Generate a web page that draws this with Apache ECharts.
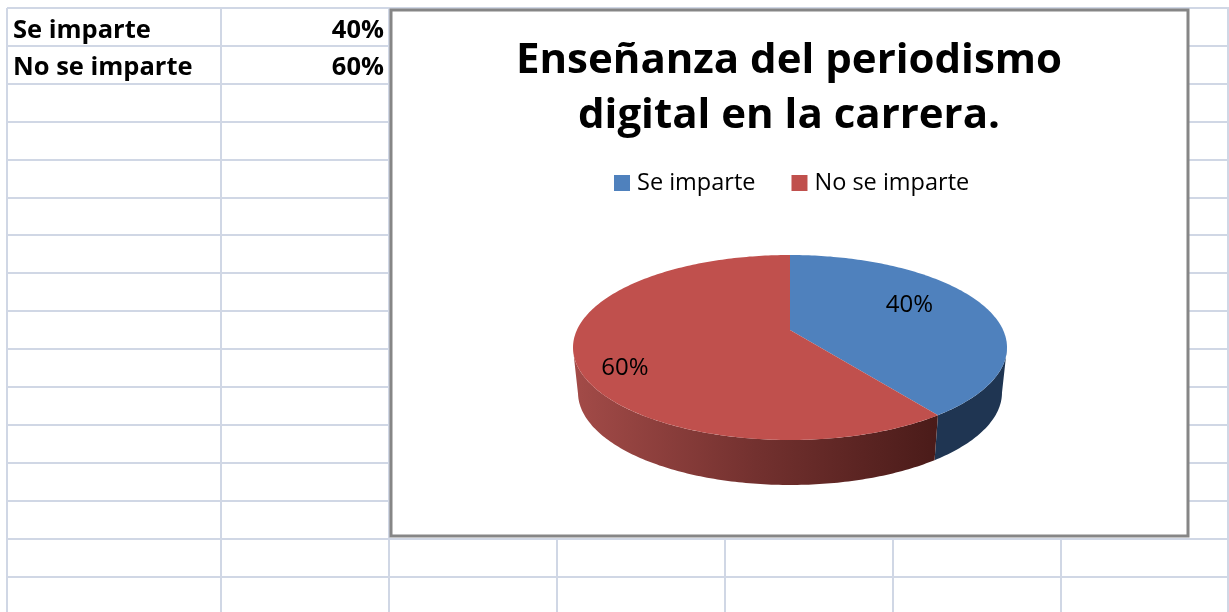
<!DOCTYPE html>
<html>
<head>
<meta charset="utf-8">
<title>Enseñanza del periodismo digital</title>
<script src="https://cdn.jsdelivr.net/npm/echarts@6/dist/echarts.min.js"></script>
<style>
  html, body { margin: 0; padding: 0; background: #fff; }
  #main { width: 1229px; height: 612px; }
</style>
</head>
<body>
<div id="main"></div>
<script>
// data
var categories = ["Se imparte", "No se imparte"];
var values = [40, 60];
var titleText = "Enseñanza del periodismo\ndigital en la carrera.";

var colors = ["#4f81bd", "#c0504d"];
var FONT = "Open Sans";

// sheet layout
var GRID = "#d0d7e5";
var rowTop = 8, rowH = 37.9, rowCount = 16;
var upperCols = [7, 221, 389, 1228];
var lowerCols = [557, 725, 893, 1061];
var box = { x: 391, y: 10, w: 797, h: 526 };

// pie layout (the 3D tilt puts the apex above the ellipse centre)
var pie = { cx: 790, cy: 347.5, rx: 217, ry: 92.5, depth: 45, bottomRx: 212, tilt: -0.19 };
var labelSpots = [{ r: 0.6, dx: 2, dy: -9 }, { r: 0.8, dx: 5, dy: 15 }];
var total = values.reduce(function (a, b) { return a + b; }, 0);

// disc angle (clockwise from top, radians) and radius to ellipse coords
function project(angle, r) {
  var x = Math.sin(angle) * r, y = -Math.cos(angle) * r, k = pie.tilt;
  var d = 1 + k * y;
  return { x: x * Math.sqrt(1 - k * k) / d, y: (y + k) / d };
}
function toPx(p) {
  return [pie.cx + p.x * pie.rx, pie.cy + p.y * pie.ry];
}
function rimAngle(angle) {
  var p = project(angle, 1);
  var a = Math.atan2(p.x, -p.y);
  return a < 0 ? a + Math.PI * 2 : a;
}

function sideFill(idx) {
  if (idx == 0) return "#1f3552";
  return new echarts.graphic.LinearGradient(0, 0, 1, 0, [
    { offset: 0, color: "#a34b48" },
    { offset: 0.5, color: "#73312f" },
    { offset: 1, color: "#4a1b19" }
  ]);
}

function renderSlice(idx, params, api) {
  var before = 0;
  for (var i = 0; i < idx; i++) before += values[i];
  var a0 = before / total * Math.PI * 2;
  var a1 = (before + api.value(0)) / total * Math.PI * 2;
  var step = Math.PI / 180, a;

  var top = [toPx(project(0, 0))];
  for (a = a0; a < a1; a += step) top.push(toPx(project(a, 1)));
  top.push(toPx(project(a1, 1)));

  // side wall, only the front half of the rim shows
  var from = Math.max(rimAngle(a0 + 1e-4), Math.PI / 2);
  var to = Math.min(a1 >= Math.PI * 2 - 1e-6 ? Math.PI * 2 : rimAngle(a1), Math.PI * 1.5);
  var upper = [], lower = [];
  for (a = from; a <= to; a += step) {
    upper.push([pie.cx + Math.sin(a) * pie.rx, pie.cy - Math.cos(a) * pie.ry]);
    lower.unshift([pie.cx + Math.sin(a) * pie.bottomRx, pie.cy + pie.depth - Math.cos(a) * pie.ry]);
  }

  var mid = (a0 + a1) / 2;
  var spot = toPx(project(mid, labelSpots[idx].r));

  return {
    type: "group",
    children: [
      { type: "polygon", shape: { points: upper.concat(lower) }, style: { fill: sideFill(idx) } },
      { type: "polygon", shape: { points: top }, style: { fill: colors[idx] } },
      {
        type: "text",
        z2: 10,
        style: {
          x: spot[0] + labelSpots[idx].dx, y: spot[1] + labelSpots[idx].dy,
          text: api.value(0) + "%",
          fill: "#000", font: "24px '" + FONT + "'",
          align: "center", verticalAlign: "middle"
        }
      }
    ]
  };
}

// spreadsheet behind the chart
function sheetGraphics() {
  var out = [];
  function line(x1, y1, x2, y2) {
    out.push({
      type: "line", silent: true, z: 0,
      shape: { x1: x1, y1: y1, x2: x2, y2: y2 },
      style: { stroke: GRID, lineWidth: 2 }
    });
  }
  for (var r = 0; r < rowCount; r++) {
    var y = Math.round(rowTop + r * rowH);
    line(7, y, 1229, y);
  }
  upperCols.forEach(function (x) { line(x, rowTop, x, 612); });
  lowerCols.forEach(function (x) { line(x, 538, x, 612); });

  categories.forEach(function (name, i) {
    var cy = 31 + i * 36.5;
    out.push({
      type: "text", z: 1,
      style: { x: 13, y: cy, text: name, fill: "#000", font: "bold 25.5px '" + FONT + "'", align: "left", verticalAlign: "middle" }
    });
    out.push({
      type: "text", z: 1,
      style: { x: 384, y: cy, text: values[i] + "%", fill: "#000", font: "bold 25.5px '" + FONT + "'", align: "right", verticalAlign: "middle" }
    });
  });

  out.push({
    type: "rect", z: 2,
    shape: { x: box.x, y: box.y, width: box.w, height: box.h },
    style: { fill: "#fff", stroke: "#868686", lineWidth: 3 }
  });
  return out;
}

var chart = echarts.init(document.getElementById("main"), null, { renderer: "canvas" });
var option = {
  animation: false,
  backgroundColor: "#fff",
  title: {
    text: titleText,
    left: 784,
    top: 29,
    textAlign: "center",
    textStyle: { fontFamily: FONT, fontWeight: "bold", fontSize: 42, lineHeight: 55, color: "#000" }
  },
  legend: {
    data: categories,
    left: 609,
    top: 166,
    icon: "rect",
    itemWidth: 16,
    itemHeight: 16,
    itemGap: 36,
    selectedMode: false,
    textStyle: { fontFamily: FONT, fontSize: 23.5, color: "#000", padding: [0, 0, 0, 2] }
  },
  graphic: sheetGraphics(),
  series: categories.map(function (name, i) {
    return {
      type: "custom",
      name: name,
      coordinateSystem: "none",
      silent: true,
      z: 5,
      itemStyle: { color: colors[i] },
      data: [values[i]],
      renderItem: function (params, api) { return renderSlice(i, params, api); }
    };
  })
};
chart.setOption(option);
</script>
</body>
</html>
